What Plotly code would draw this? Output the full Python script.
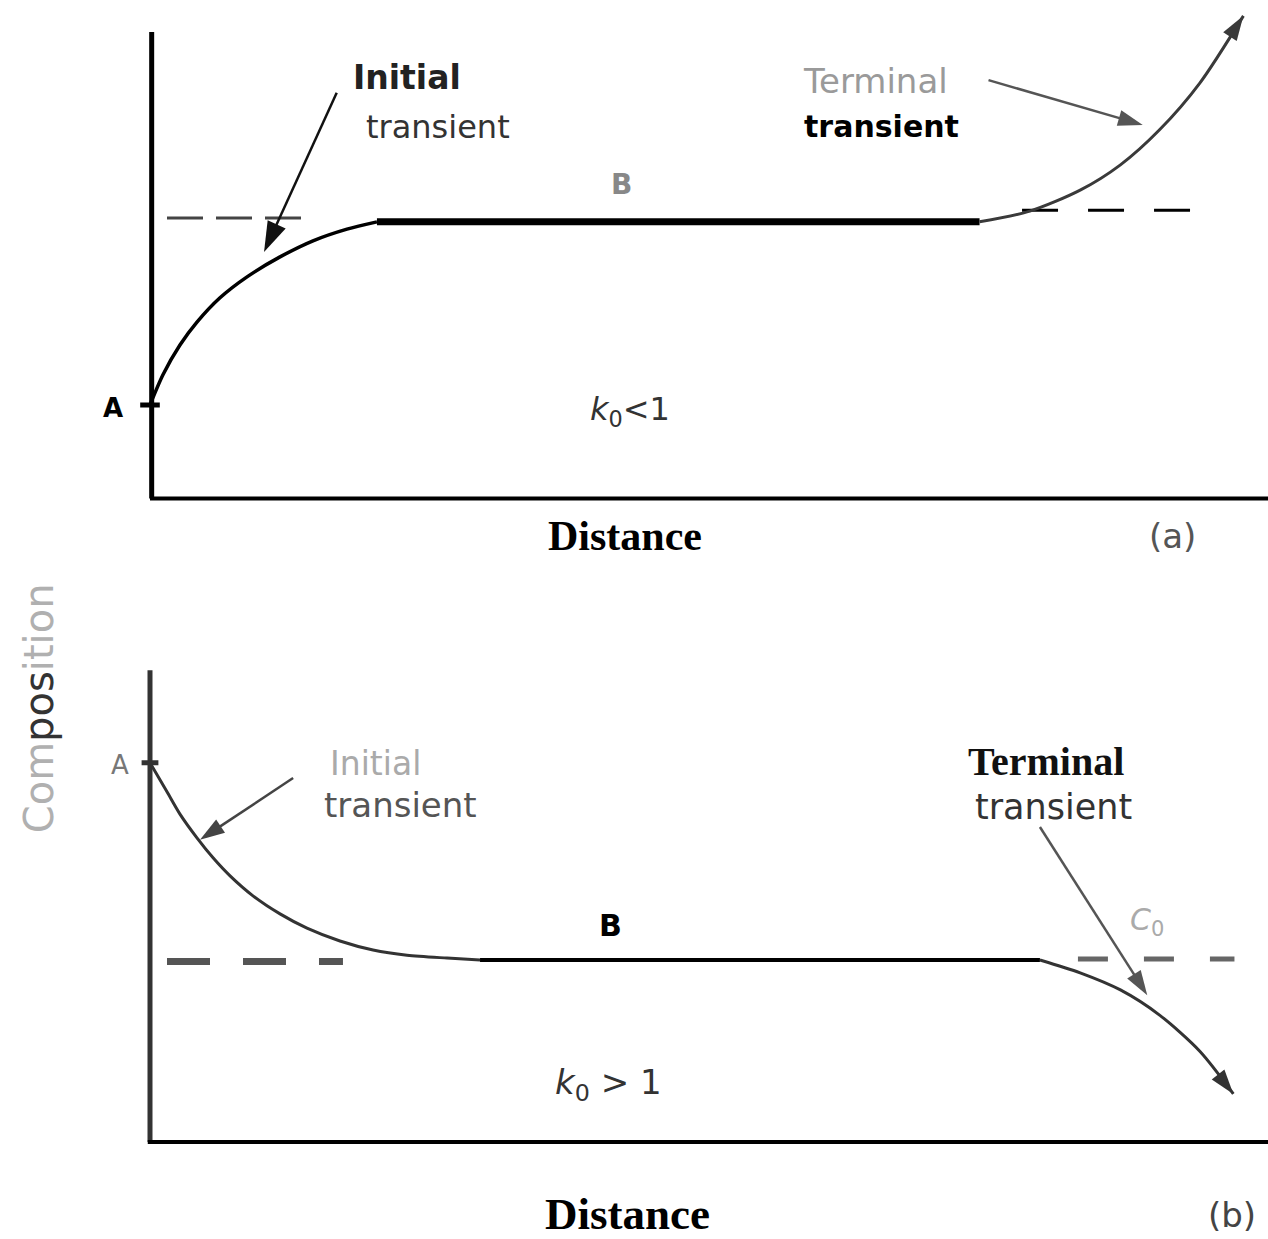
import plotly.graph_objects as go

# ---------------- data (Distance / Composition, arbitrary units 0-10) ----------------
# (a) k0 < 1 : solute-depleted start, steady state, then terminal build-up
a_init_x = [0.00, 0.116, 0.268, 0.420, 0.626, 0.868, 1.163, 1.458, 1.762, 2.030]
a_init_y = [1.89, 2.51, 3.12, 3.59, 4.09, 4.52, 4.93, 5.26, 5.50, 5.65]
a_steady_x = [2.030, 7.42]
a_steady_y = [5.65, 5.65]
a_term_x = [7.42, 7.87, 8.32, 8.68, 9.03, 9.39, 9.78]
a_term_y = [5.65, 5.87, 6.30, 6.82, 7.54, 8.50, 9.88]
a_c0_left_x = [0.152, 1.431]
a_c0_left_y = [5.73, 5.73]
a_c0_right_x = [7.80, 9.36]
a_c0_right_y = [5.89, 5.89]

# (b) k0 > 1 : solute-rich start, steady state, then terminal depletion
b_init_x = [0.00, 0.152, 0.268, 0.420, 0.564, 0.716, 0.921, 1.163, 1.404, 1.699, 1.995, 2.299, 2.657, 2.952]
b_init_y = [7.94, 7.33, 6.86, 6.36, 5.94, 5.56, 5.14, 4.76, 4.46, 4.19, 4.00, 3.89, 3.83, 3.79]
b_steady_x = [2.952, 7.96]
b_steady_y = [3.79, 3.79]
b_term_x = [7.96, 8.32, 8.68, 9.03, 9.39, 9.69]
b_term_y = [3.79, 3.52, 3.16, 2.63, 1.87, 0.97]
b_c0_left_x = [0.152, 1.726]
b_c0_left_y = [3.76, 3.76]
b_c0_right_x = [8.30, 9.70]
b_c0_right_y = [3.81, 3.81]

# leader arrows pointing at the transients (tail -> head)
a_init_arrow_x, a_init_arrow_y = [1.67, 1.02], [8.30, 5.03]
a_term_arrow_x, a_term_arrow_y = [7.50, 8.88], [8.56, 7.64]
b_init_arrow_x, b_init_arrow_y = [1.28, 0.447], [7.62, 6.32]
b_term_arrow_x, b_term_arrow_y = [7.96, 8.92], [6.59, 3.05]

# axis extents
a_axis_top = 9.55
b_axis_top = 9.89
x_axis_end = 10.0

fig = go.Figure()


def line(x, y, xa, ya, color, width, dash="solid", shape="linear", head=0):
    """Polyline; with head > 0 an arrowhead is put on the last point."""
    sizes = [0] * (len(x) - 1) + [head]
    fig.add_trace(go.Scatter(
        x=x, y=y, mode="lines+markers" if head else "lines", xaxis=xa, yaxis=ya,
        line=dict(color=color, width=width, dash=dash, shape=shape, smoothing=0.8),
        marker=dict(symbol="arrow", size=sizes, color=color, angleref="previous",
                    opacity=1, line=dict(width=0)),
        hoverinfo="skip", showlegend=False))


# axes drawn as heavy strokes
line([0.015, 0.015], [-0.03, a_axis_top], "x", "y", "#000000", 5)
line([0.0, x_axis_end], [-0.03, -0.03], "x", "y", "#000000", 4)
line([0.0, 0.0], [-0.04, b_axis_top], "x2", "y2", "#333333", 5)
line([-0.02, x_axis_end], [-0.04, -0.04], "x2", "y2", "#000000", 4)

# panel (a)
line(a_c0_left_x, a_c0_left_y, "x", "y", "#444444", 3, "36px,13px")
line(a_c0_right_x, a_c0_right_y, "x", "y", "#000000", 3, "36px,30px")
line(a_init_x, a_init_y, "x", "y", "#000000", 3.5, shape="spline")
line(a_steady_x, a_steady_y, "x", "y", "#000000", 7)
line(a_term_x, a_term_y, "x", "y", "#3a3a3a", 3, shape="spline", head=26)
line(a_init_arrow_x, a_init_arrow_y, "x", "y", "#111111", 2.5, head=32)
line(a_term_arrow_x, a_term_arrow_y, "x", "y", "#555555", 2.5, head=26)
fig.add_trace(go.Scatter(x=[a_init_x[0]], y=[a_init_y[0]], mode="markers", xaxis="x", yaxis="y",
                         marker=dict(symbol="line-ew-open", size=14, color="#000",
                                     line=dict(color="#000", width=5)),
                         hoverinfo="skip", showlegend=False))

# panel (b)
line(b_c0_left_x, b_c0_left_y, "x2", "y2", "#555555", 7, "43px,33px")
line(b_c0_right_x, b_c0_right_y, "x2", "y2", "#666666", 5, "30px,36px")
line(b_init_x, b_init_y, "x2", "y2", "#333333", 3, shape="spline")
line(b_steady_x, b_steady_y, "x2", "y2", "#000000", 4)
line(b_term_x, b_term_y, "x2", "y2", "#333333", 3, shape="spline", head=26)
line(b_init_arrow_x, b_init_arrow_y, "x2", "y2", "#444444", 2.5, head=26)
line(b_term_arrow_x, b_term_arrow_y, "x2", "y2", "#555555", 2.5, head=26)
fig.add_trace(go.Scatter(x=[b_init_x[0]], y=[b_init_y[0]], mode="markers", xaxis="x2", yaxis="y2",
                         marker=dict(symbol="line-ew-open", size=12, color="#333",
                                     line=dict(color="#333", width=5)),
                         hoverinfo="skip", showlegend=False))

SANS = "DejaVu Sans"
SERIF = "Liberation Serif"


def label(text, x, y, xref, yref, size, color="#000", family=SANS, angle=0):
    fig.add_annotation(text=text, x=x, y=y, xref=xref, yref=yref, showarrow=False,
                       xanchor="center", yanchor="middle", textangle=angle,
                       font=dict(family=family, size=size, color=color))


# panel (a) labels
label("<b>Initial</b>", 2.30, 8.62, "x", "y", 33, "#222")
label("transient", 2.58, 7.60, "x", "y", 32, "#333")
label("Terminal", 6.49, 8.54, "x", "y", 34, "#9a9a9a")
label("<b>transient</b>", 6.54, 7.60, "x", "y", 30, "#000")
label("<b>B</b>", 4.22, 6.41, "x", "y", 28, "#888")
label("<b>A</b>", -0.33, 1.83, "x", "y", 26, "#000")
label("<i>k</i><sub>0</sub>&lt;1", 4.29, 1.76, "x", "y", 32, "#333")

# panel (b) labels
label("A", -0.27, 7.89, "x2", "y2", 26, "#777")
label("Initial", 2.02, 7.92, "x2", "y2", 33, "#aaaaaa")
label("transient", 2.24, 7.06, "x2", "y2", 34, "#555")
label("<b>Terminal</b>", 8.01, 7.96, "x2", "y2", 40, "#111", SERIF)
label("transient", 8.08, 7.01, "x2", "y2", 35, "#333")
label("<i>C</i><sub>0</sub>", 8.92, 4.59, "x2", "y2", 30, "#aaaaaa")
label("<b>B</b>", 4.12, 4.51, "x2", "y2", 30, "#000")
label("<i>k</i><sub>0</sub> &gt; 1", 4.10, 1.16, "x2", "y2", 34, "#333")

# axis titles and panel tags
label("<b>Distance</b>", 0.4929, 0.5674, "paper", "paper", 42, "#000", SERIF)
label("(a)", 0.9243, 0.5674, "paper", "paper", 34, "#555")
label("<b>Distance</b>", 0.4945, 0.0202, "paper", "paper", 45, "#000", SERIF)
label("(b)", 0.9716, 0.0194, "paper", "paper", 34, "#444")
label("<span style='color:#b0b0b0'>Com</span><span style='color:#333'>pos</span>"
      "<span style='color:#b0b0b0'>ition</span>", 0.031, 0.4286, "paper", "paper", 40,
      "#b0b0b0", SANS, -90)

ax_common = dict(visible=False, range=[-0.5, 10], fixedrange=True)
fig.update_layout(
    width=1268, height=1239,
    margin=dict(l=0, r=0, t=0, b=0),
    paper_bgcolor="white", plot_bgcolor="white",
    showlegend=False,
    xaxis=dict(domain=[0.07421, 1.0], anchor="y", **ax_common),
    yaxis=dict(domain=[0.57922, 0.99193], anchor="x", **ax_common),
    xaxis2=dict(domain=[0.07421, 1.0], anchor="y2", **ax_common),
    yaxis2=dict(domain=[0.06073, 0.46328], anchor="x2", **ax_common),
)

fig.write_html("out.html")
